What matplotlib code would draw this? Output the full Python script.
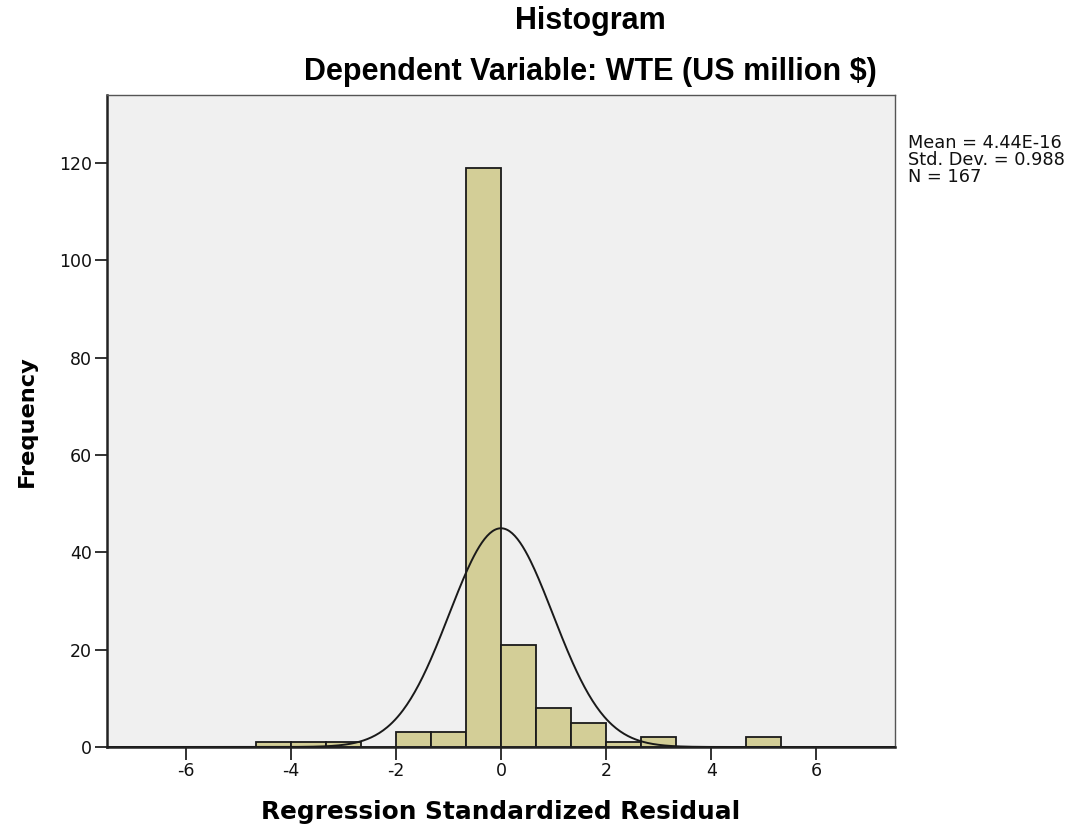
import numpy as np
import matplotlib
matplotlib.use('Agg')
import matplotlib.pyplot as plt

matplotlib.rcParams.update({'font.family': ['DejaVu Sans']})

# histogram of regression standardized residuals (bin width 2/3)
bin_left = [-14/3, -4, -10/3, -8/3, -2, -4/3, -2/3, 0, 2/3, 4/3, 2, 8/3, 10/3, 4, 14/3]
counts = [1, 1, 1, 0, 3, 3, 119, 21, 8, 5, 1, 2, 0, 0, 2]
bin_width = 2/3

mean_val = 4.44e-16
std_val = 0.988
n_val = 167

x_ticks = [-6, -4, -2, 0, 2, 4, 6]
y_ticks = [0, 20, 40, 60, 80, 100, 120]

fig = plt.figure(figsize=(10.75, 8.3), dpi=100)
ax = fig.add_axes([0.0995, 0.1, 0.7331, 0.7855])
ax.set_facecolor('#f0f0f0')

ax.bar(bin_left, counts, width=bin_width, align='edge',
       color='#d3ce97', edgecolor='#1a1a1a', linewidth=1.3, zorder=2)

# fitted normal curve
xs = np.linspace(-7.5, 7.5, 600)
ys = n_val * bin_width / (std_val * np.sqrt(2 * np.pi)) * np.exp(-0.5 * ((xs - mean_val) / std_val) ** 2)
ax.plot(xs, ys, color='#1a1a1a', linewidth=1.4, zorder=3)

ax.set_xlim(-7.5, 7.5)
ax.set_ylim(0, 134)
ax.set_xticks(x_ticks)
ax.set_xticklabels([str(t) for t in x_ticks])
ax.set_yticks(y_ticks)
ax.tick_params(axis='both', labelsize=12.5, length=9, width=1.3, color='#222222',
               direction='out', pad=2, labelcolor='#111111')

for side in ['top', 'right']:
    ax.spines[side].set_color('#555555')
    ax.spines[side].set_linewidth(1.0)
for side in ['left', 'bottom']:
    ax.spines[side].set_color('#222222')
    ax.spines[side].set_linewidth(1.8)

ax.set_xlabel('Regression Standardized Residual', fontsize=17.8, fontweight='bold', labelpad=14)
ax.set_ylabel('Frequency', fontsize=16.2, fontweight='bold', labelpad=16)

fig.text(0.549, 0.975, 'Histogram', ha='center', va='center', fontsize=22,
         fontweight='bold', family='Liberation Sans')
fig.text(0.549, 0.913, 'Dependent Variable: WTE (US million $)', ha='center', va='center',
         fontsize=22, fontweight='bold', family='Liberation Sans')

fig.text(0.845, 0.838, 'Mean = 4.44E-16\nStd. Dev. = 0.988\nN = 167',
         ha='left', va='top', fontsize=12.8, linespacing=0.93, color='#111111')

fig.savefig('out.png', dpi=100)
